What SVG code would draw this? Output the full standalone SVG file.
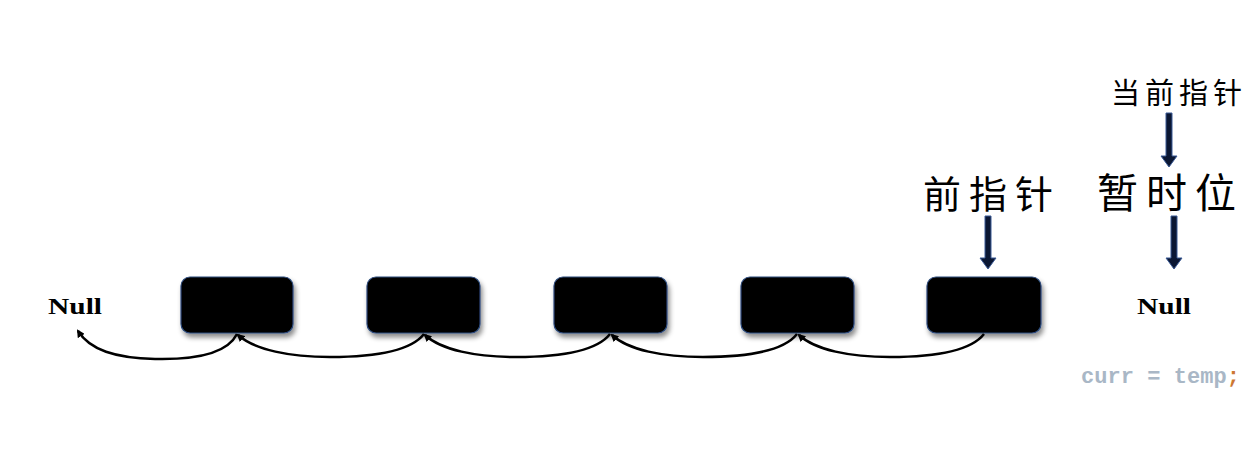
<svg xmlns="http://www.w3.org/2000/svg" width="1255" height="476" viewBox="0 0 1255 476">
<style>
.node{fill:#000;stroke:#2c4a7c;stroke-width:1.2}
.null{font-family:"Liberation Serif",serif;font-weight:bold;font-size:23px;fill:#000}
.cjk{font-family:"Noto Sans CJK SC",sans-serif;fill:#000}
.link{fill:none;stroke:#000;stroke-width:2.5}
.ptr{fill:#0b1733;stroke:#3a5a96;stroke-width:1}
.code{font-family:"Liberation Mono",monospace;font-weight:bold;font-size:22px;fill:#a9b7c6}
</style>
<defs>
<filter id="sh" x="-20%" y="-20%" width="150%" height="160%">
<feDropShadow dx="2" dy="4" stdDeviation="2.5" flood-color="#000" flood-opacity="0.45"/>
</filter>
<marker id="ah" markerWidth="8" markerHeight="8" refX="6" refY="4" orient="auto" markerUnits="userSpaceOnUse">
<path d="M0,0 L8,4 L0,8 Z" fill="#000"/>
</marker>
</defs>
<g id="null-left"><text class="null" x="48" y="314" textLength="54" lengthAdjust="spacingAndGlyphs">Null</text></g>
<g id="null-right"><text class="null" x="1137" y="314" textLength="54" lengthAdjust="spacingAndGlyphs">Null</text></g>
<g id="node1"><rect class="node" x="181" y="277" width="112" height="56" rx="9" filter="url(#sh)"/></g>
<g id="node2"><rect class="node" x="367" y="277" width="113" height="56" rx="9" filter="url(#sh)"/></g>
<g id="node3"><rect class="node" x="554" y="277" width="113" height="56" rx="9" filter="url(#sh)"/></g>
<g id="node4"><rect class="node" x="741" y="277" width="113" height="56" rx="9" filter="url(#sh)"/></g>
<g id="node5"><rect class="node" x="927" y="277" width="114" height="56" rx="9" filter="url(#sh)"/></g>
<g id="label-prev"><text class="cjk" x="923" y="208" font-size="38" letter-spacing="8">前指针</text></g>
<g id="label-temp"><text class="cjk" x="1097" y="208" font-size="41" letter-spacing="8">暂时位</text></g>
<g id="label-curr"><text class="cjk" x="1111" y="104" font-size="29" letter-spacing="5">当前指针</text></g>
<g id="code"><text class="code" x="1081" y="383" textLength="159" lengthAdjust="spacing">curr = temp<tspan fill="#cc7832">;</tspan></text></g>
<g id="connectors">
<path class="link" d="M237,334 C228,352 200,360 155,359 C115,358 90,350 78,331" marker-end="url(#ah)"/>
<path class="link" d="M424,334 C410,352 370,357 330,357 C290,357 255,350 238,335" marker-end="url(#ah)"/>
<path class="link" d="M610,334 C596,352 556,357 516,357 C476,357 441,350 425,335" marker-end="url(#ah)"/>
<path class="link" d="M797,334 C783,352 743,357 703,357 C663,357 628,350 612,335" marker-end="url(#ah)"/>
<path class="link" d="M984,334 C970,352 930,357 890,357 C850,357 815,350 799,335" marker-end="url(#ah)"/>
<path class="ptr" d="M985,216 L991,216 L991,258 L996,258 L988,269 L980,258 L985,258 Z"/>
<path class="ptr" d="M1171,216 L1177,216 L1177,258 L1182,258 L1174,269 L1166,258 L1171,258 Z"/>
<path class="ptr" d="M1166,113 L1172,113 L1172,156 L1177,156 L1169,167 L1161,156 L1166,156 Z"/>
</g>
</svg>
